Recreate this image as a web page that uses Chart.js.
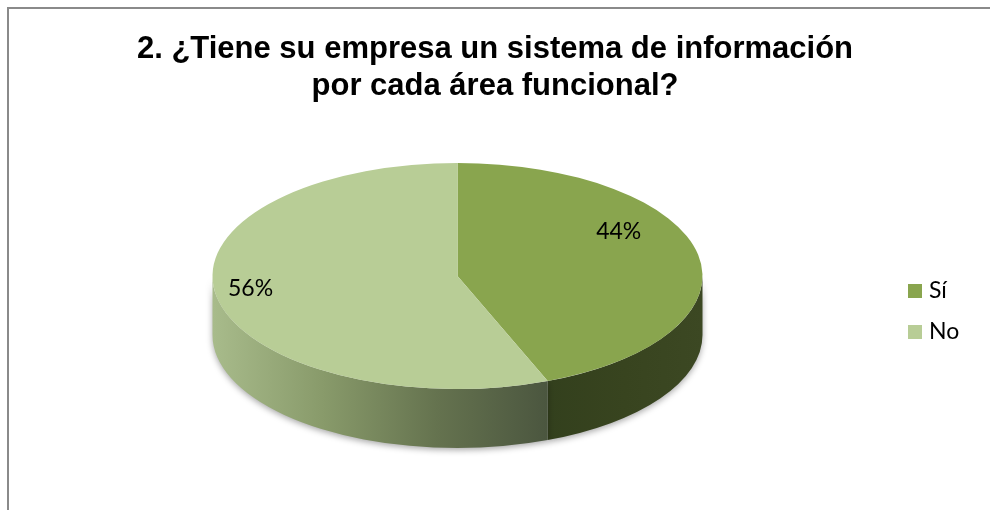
<!DOCTYPE html>
<html>
<head>
<meta charset="utf-8">
<script src="https://cdn.jsdelivr.net/npm/chart.js@4.4.1/dist/chart.umd.min.js"></script>
<style>
  html, body { margin: 0; padding: 0; background: #ffffff; overflow: hidden; }
  #wrap { width: 990px; height: 510px; position: relative; overflow: hidden; }
  canvas { display: block; }
</style>
</head>
<body>
<div id="wrap"><canvas id="c" width="990" height="510"></canvas></div>
<script>
const titleLines = ['2. ¿Tiene su empresa un sistema de información', 'por cada área funcional?'];
const categories = ['Sí', 'No'];
const values = [44, 56];
const topColors = ['#89A54E', '#B8CD96'];

const pie3d = {
  id: 'pie3d',
  beforeDraw(chart, args, o) {
    const ctx = chart.ctx;
    ctx.save();
    ctx.fillStyle = '#ffffff';
    ctx.fillRect(0, 0, chart.width, chart.height);
    ctx.strokeStyle = '#8a8a8a';
    ctx.lineWidth = 2;
    ctx.beginPath();
    ctx.moveTo(8, chart.height + 5);
    ctx.lineTo(8, 8);
    ctx.lineTo(chart.width + 5, 8);
    ctx.stroke();
    ctx.restore();
  },
  beforeDatasetsDraw(chart, args, o) {
    const ctx = chart.ctx;
    const meta = chart.getDatasetMeta(0);
    const {cx, cy, rx, ry, depth} = o;
    ctx.save();
    ctx.shadowColor = 'rgba(0,0,0,0.35)';
    ctx.shadowBlur = 6;
    ctx.shadowOffsetY = 2;
    meta.data.forEach((arc, i) => {
      const s = arc.startAngle, e = arc.endAngle;
      for (const k of [-2 * Math.PI, 0, 2 * Math.PI]) {
        const lo = Math.max(s, k), hi = Math.min(e, k + Math.PI);
        if (lo < hi) {
          const a = lo - k, b = hi - k;
          ctx.beginPath();
          ctx.ellipse(cx, cy, rx, ry, 0, a, b, false);
          ctx.ellipse(cx, cy + depth, rx, ry, 0, b, a, true);
          ctx.closePath();
          const x0 = cx + rx * Math.cos(b), x1 = cx + rx * Math.cos(a);
          const g = ctx.createLinearGradient(Math.min(x0, x1), 0, Math.max(x0, x1), 0);
          const stops = o.sideStops[i];
          stops.forEach((c, j) => g.addColorStop(j / (stops.length - 1), c));
          ctx.fillStyle = g;
          ctx.fill();
        }
      }
    });
    ctx.restore();
    const a0 = meta.data[0];
    ctx.save();
    ctx.translate(cx, cy);
    ctx.scale(rx / a0.outerRadius, ry / a0.outerRadius);
    ctx.translate(-a0.x, -a0.y);
  },
  afterDatasetsDraw(chart, args, o) {
    const ctx = chart.ctx;
    ctx.restore();
    const meta = chart.getDatasetMeta(0);
    const {cx, cy, rx, ry} = o;
    const data = chart.data.datasets[0].data;
    const total = data.reduce((p, v) => p + v, 0);
    ctx.save();
    ctx.fillStyle = '#000000';
    ctx.font = o.labelFont;
    ctx.textAlign = 'center';
    ctx.textBaseline = 'middle';
    meta.data.forEach((arc, i) => {
      const mid = (arc.startAngle + arc.endAngle) / 2;
      const f = o.labelRadius[i];
      const x = cx + rx * f * Math.cos(mid);
      const y = cy + ry * f * Math.sin(mid) + o.labelDy[i];
      ctx.fillText(Math.round(data[i] / total * 100) + '%', x, y);
    });
    ctx.restore();
    ctx.save();
    ctx.font = o.legendFont;
    ctx.textBaseline = 'middle';
    ctx.textAlign = 'left';
    chart.data.labels.forEach((lab, i) => {
      const y = o.legendY + i * o.legendGap;
      ctx.fillStyle = chart.data.datasets[0].backgroundColor[i];
      ctx.fillRect(o.legendX, y - 7, 14, 14);
      ctx.fillStyle = '#000000';
      ctx.fillText(lab, o.legendX + 21, y);
    });
    ctx.restore();
  }
};

new Chart(document.getElementById('c'), {
  type: 'pie',
  data: {
    labels: categories,
    datasets: [{
      data: values,
      backgroundColor: topColors,
      borderWidth: 0,
      clip: false
    }]
  },
  options: {
    responsive: false,
    animation: false,
    events: [],
    layout: { padding: 0 },
    plugins: {
      legend: { display: false },
      tooltip: { enabled: false },
      title: {
        display: true,
        text: titleLines,
        color: '#000000',
        font: { family: 'Liberation Sans, Arial, sans-serif', size: 31, weight: 'bold', lineHeight: 1.2 },
        padding: { top: 31, bottom: 10 }
      },
      pie3d: {
        cx: 457.5, cy: 276, rx: 245, ry: 113, depth: 59,
        sideStops: [['#33401D', '#38441F', '#3C4823'], ['#A8BB8B', '#889A6A', '#65734F', '#4B563F']],
        labelFont: '23px Lato, "Open Sans", sans-serif',
        labelRadius: [0.67, 0.86],
        labelDy: [-30, -6],
        legendFont: '23px Lato, "Open Sans", sans-serif',
        legendX: 908, legendY: 291, legendGap: 41
      }
    }
  },
  plugins: [pie3d]
});
</script>
</body>
</html>
